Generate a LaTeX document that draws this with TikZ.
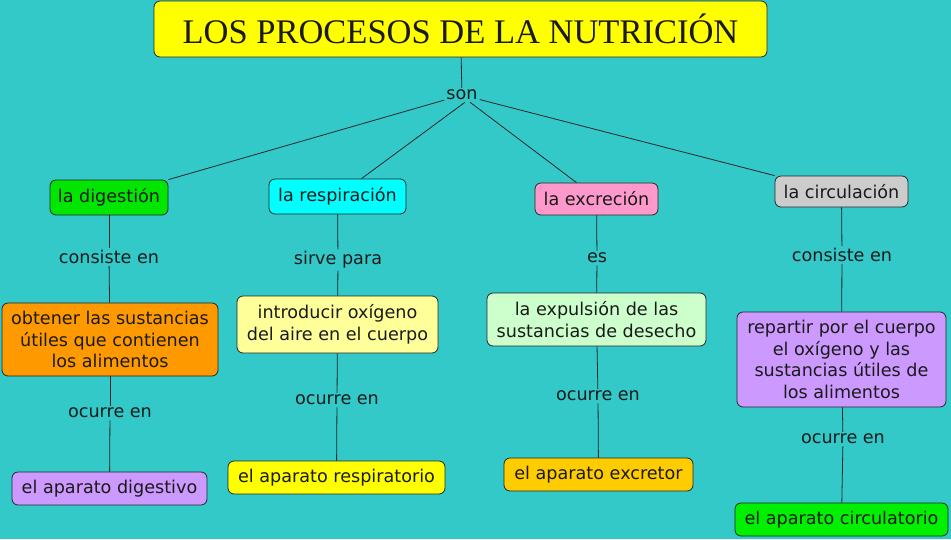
\documentclass[tikz,border=0pt]{standalone}
\usepackage{fontspec}
\setmainfont{DejaVu Sans}
\newfontfamily\titlefont{Liberation Serif}
\definecolor{bgc}{HTML}{33C9C9}
\definecolor{cdig}{HTML}{00E600}
\definecolor{cresp}{HTML}{00FFFF}
\definecolor{cexc}{HTML}{FF99CC}
\definecolor{ccirc}{HTML}{CCCCCC}
\definecolor{cobt}{HTML}{FF9900}
\definecolor{cintro}{HTML}{FFFF99}
\definecolor{cexpul}{HTML}{CCFFCC}
\definecolor{cpurple}{HTML}{CC99FF}
\definecolor{cyel}{HTML}{FFFF00}
\definecolor{cexcr}{HTML}{FFCC00}
\definecolor{capc}{HTML}{00F000}
\definecolor{txt}{HTML}{1A1A1A}
\begin{document}
\begin{tikzpicture}[x=1pt,y=-1pt,
  concept/.style={draw=black!85, line width=0.8pt, rounded corners=6pt, inner sep=0pt,
     align=center, text=txt, font=\fontsize{17.6}{21.7}\selectfont},
  linklbl/.style={inner sep=2pt, text=txt, font=\fontsize{17.6}{20}\selectfont},
  conn/.style={draw=black!85, line width=0.8pt}]
\fill[bgc] (0,0) rectangle (951,539);
\useasboundingbox (0,0) rectangle (951,539);

\node[concept, fill=cyel, minimum width=613pt, minimum height=56pt, font=\titlefont\fontsize{34.5}{36}\selectfont] (title) at (460.5,29) {LOS PROCESOS DE LA NUTRICIÓN};

\node[concept, fill=cdig, minimum width=118pt, minimum height=35pt] (dig) at (109,197.5) {la digestión};
\node[concept, fill=cresp, minimum width=137pt, minimum height=35pt] (resp) at (337.5,196.5) {la respiración};
\node[concept, fill=cexc, minimum width=123pt, minimum height=32pt] (exc) at (596.5,199) {la excreción};
\node[concept, fill=ccirc, minimum width=133pt, minimum height=31pt] (circ) at (841.5,191.5) {la circulación};

\node[concept, fill=cobt, minimum width=216pt, minimum height=73pt] (obt) at (110,339.5) {obtener las sustancias\\útiles que contienen\\los alimentos};
\node[concept, fill=cintro, minimum width=201pt, minimum height=57pt] (intro) at (337.5,324.5) {introducir oxígeno\\del aire en el cuerpo};
\node[concept, fill=cexpul, minimum width=219pt, minimum height=53pt] (expul) at (596.5,319.5) {la expulsión de las\\sustancias de desecho};
\node[concept, fill=cpurple, minimum width=209pt, minimum height=95pt] (rep) at (841.5,359.5) {repartir por el cuerpo\\el oxígeno y las\\sustancias útiles de\\los alimentos};

\node[concept, fill=cpurple, minimum width=195pt, minimum height=33pt] (apdig) at (109.5,488.5) {el aparato digestivo};
\node[concept, fill=cyel, minimum width=217pt, minimum height=33pt] (apres) at (336.5,477.5) {el aparato respiratorio};
\node[concept, fill=cexcr, minimum width=189pt, minimum height=33pt] (apexc) at (598.5,474.5) {el aparato excretor};
\node[concept, fill=capc, minimum width=213pt, minimum height=33pt] (apcirc) at (841.5,519.5) {el aparato circulatorio};

\node[linklbl] (son) at (462,95) {son};
\node[linklbl] (ce1) at (109,257) {consiste en};
\node[linklbl] (sp) at (338,260) {sirve para};
\node[linklbl] (es) at (597,258) {es};
\node[linklbl] (ce2) at (842,255) {consiste en};
\node[linklbl] (oc1) at (110,413) {ocurre en};
\node[linklbl] (oc2) at (337,400) {ocurre en};
\node[linklbl] (oc3) at (598,396) {ocurre en};
\node[linklbl] (oc4) at (843,439) {ocurre en};

\draw[conn] (title) -- (son);
\draw[conn] (son) -- (dig.north east);
\draw[conn] ([xshift=3pt]son.south) -- ([xshift=24pt]resp.north);
\draw[conn] ([xshift=8pt]son.south) -- ([xshift=-20pt]exc.north);
\draw[conn] (son) -- (circ.north west);

\draw[conn] (dig) -- (ce1); \draw[conn] (ce1) -- (obt);
\draw[conn] (obt) -- (oc1); \draw[conn] (oc1) -- (apdig);
\draw[conn] (resp) -- (sp); \draw[conn] (sp) -- (intro);
\draw[conn] (intro) -- (oc2); \draw[conn] (oc2) -- (apres);
\draw[conn] (exc) -- (es); \draw[conn] (es) -- (expul);
\draw[conn] (expul) -- (oc3); \draw[conn] (oc3) -- (apexc);
\draw[conn] (circ) -- (ce2); \draw[conn] (ce2) -- (rep);
\draw[conn] (rep) -- (oc4); \draw[conn] (oc4) -- (apcirc);
\end{tikzpicture}
\end{document}
